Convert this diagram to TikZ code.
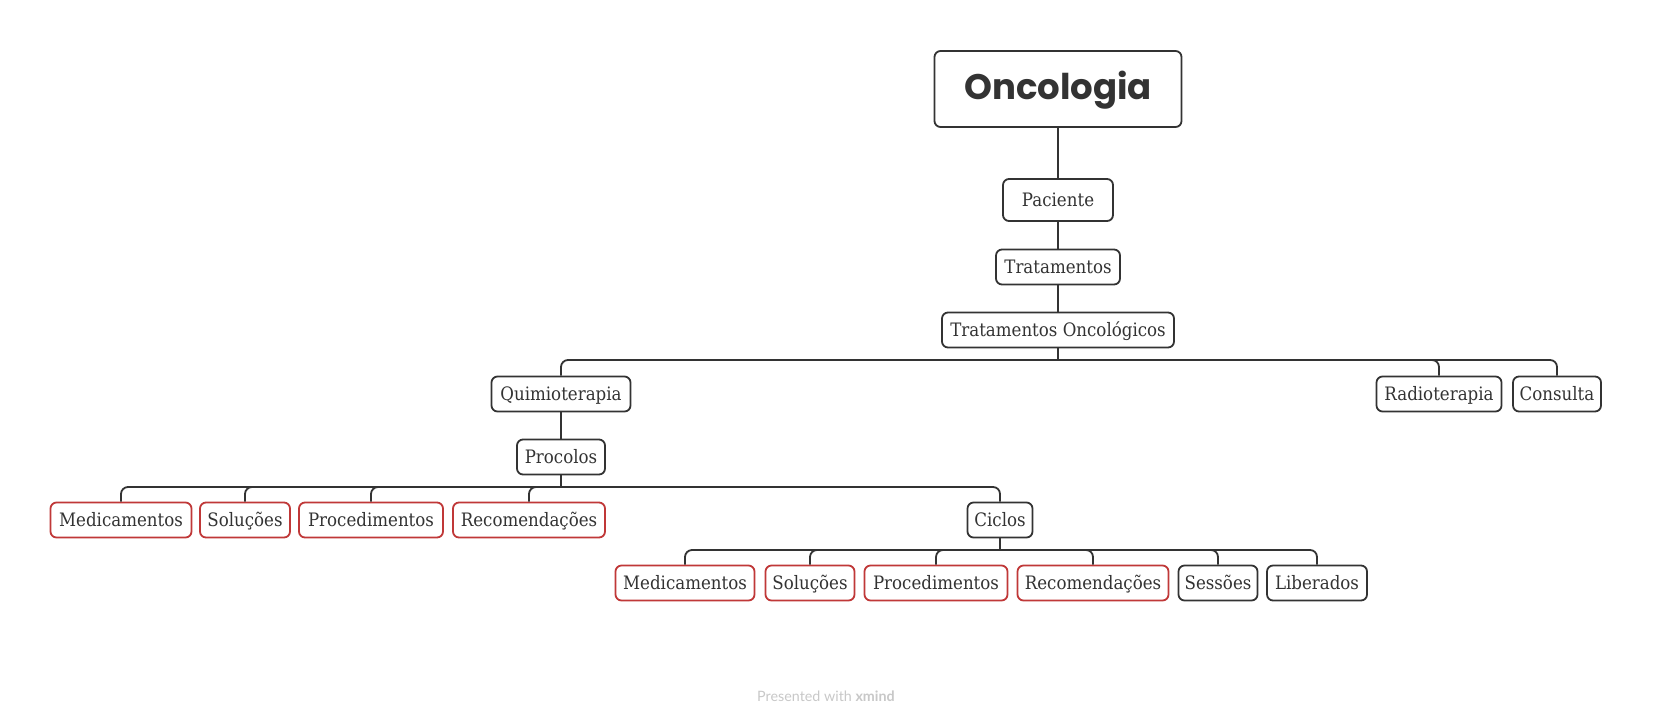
\documentclass[tikz,border=0pt]{standalone}
\usepackage{fontspec}
\setmainfont{DejaVu Serif}[FakeStretch=0.9]
\newfontfamily\titlefont{Poppins}
\newfontfamily\footfont{Lato}
\definecolor{dark}{HTML}{333333}
\definecolor{redc}{HTML}{C03838}
\definecolor{foot}{HTML}{C8C8C8}
\tikzset{
  box/.style={draw=dark, line width=1.8pt, rounded corners=6pt, fill=white, text=dark,
    font=\fontsize{18.5}{21}\selectfont, minimum height=35pt, inner sep=0pt,
    text height=15pt, text depth=3pt},
  redbox/.style={box, draw=redc},
  link/.style={draw=dark, line width=1.8pt},
  elbow/.style={link, rounded corners=7pt},
}
\begin{document}
\begin{tikzpicture}[x=1pt,y=-1pt]
\fill[white] (0,0) rectangle (1653,721);
\useasboundingbox (0,0) rectangle (1653,721);
% nodes
\node[box, minimum width=247pt, minimum height=76pt, text height=27pt, text depth=7pt, font=\titlefont\bfseries\fontsize{35.5}{40}\selectfont] (on) at (1058,89) {Oncologia};
\node[box, minimum width=110pt, minimum height=42pt] (pac) at (1058,200) {Paciente};
\node[box, minimum width=124pt] (tra) at (1058,267) {Tratamentos};
\node[box, minimum width=232pt] (tro) at (1058,330) {Tratamentos Oncológicos};
\node[box, minimum width=139pt] (qui) at (561,394) {Quimioterapia};
\node[box, minimum width=125pt] (rad) at (1439,394) {Radioterapia};
\node[box, minimum width=88pt] (con) at (1557,394) {Consulta};
\node[box, minimum width=88pt] (pro) at (561,457) {Procolos};
\node[redbox, minimum width=141pt] (med1) at (121,520) {Medicamentos};
\node[redbox, minimum width=90pt] (sol1) at (245,520) {Soluções};
\node[redbox, minimum width=144pt] (proc1) at (371,520) {Procedimentos};
\node[redbox, minimum width=152pt] (rec1) at (529,520) {Recomendações};
\node[box, minimum width=65pt] (cic) at (1000,520) {Ciclos};
\node[redbox, minimum width=139pt] (med2) at (685,583) {Medicamentos};
\node[redbox, minimum width=89pt] (sol2) at (810,583) {Soluções};
\node[redbox, minimum width=143pt] (proc2) at (936,583) {Procedimentos};
\node[redbox, minimum width=151pt] (rec2) at (1093,583) {Recomendações};
\node[box, minimum width=79pt] (ses) at (1218,583) {Sessões};
\node[box, minimum width=100pt] (lib) at (1317,583) {Liberados};
\node[text=foot, font=\footfont\fontsize{14.3}{16}\selectfont] (ft) at (826,696) {Presented with \textbf{xmind}};
% bar junctions
\coordinate (b1) at (1058,360);
\coordinate (b2) at (561,487);
\coordinate (b3) at (1000,550);
% connectors
\draw[link] (on) -- (pac);
\draw[link] (pac) -- (tra);
\draw[link] (tra) -- (tro);
\draw[link] (tro.south) -- (b1);
\draw[link] (qui) -- (pro);
\draw[link] (pro.south) -- (b2);
\draw[link] (cic.south) -- (b3);
\foreach \c in {qui,rad,con} \draw[elbow] (b1) -| (\c.north);
\foreach \c in {med1,sol1,proc1,rec1,cic} \draw[elbow] (b2) -| (\c.north);
\foreach \c in {med2,sol2,proc2,rec2,ses,lib} \draw[elbow] (b3) -| (\c.north);
\end{tikzpicture}
\end{document}
